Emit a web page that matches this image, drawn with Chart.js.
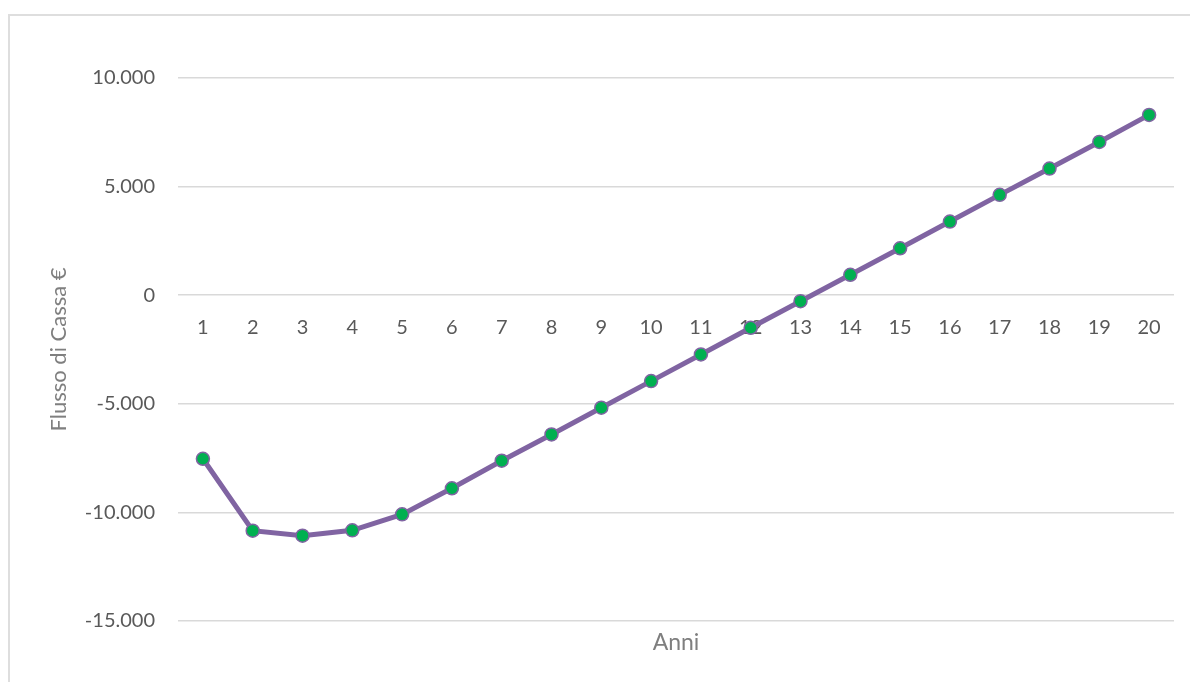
<!DOCTYPE html>
<html lang="it">
<head>
<meta charset="utf-8">
<title>Flusso di Cassa</title>
<script src="https://cdn.jsdelivr.net/npm/chart.js@4.4.1/dist/chart.umd.min.js"></script>
<style>
  html, body { margin: 0; padding: 0; background: #ffffff; overflow: hidden; }
  #wrap { position: relative; width: 1190px; height: 682px; }
  #frame { position: absolute; left: 8px; top: 14px; width: 1300px; height: 800px;
           border: 2px solid #dedede; box-sizing: border-box; pointer-events: none; }
  canvas { position: absolute; left: 0; top: 0; }
</style>
</head>
<body>
<div id="wrap">
  <div id="frame"></div>
  <canvas id="chart" width="1190" height="682"></canvas>
</div>
<script>
// Anni del piano e flusso di cassa cumulato (€)
const anni = ['1','2','3','4','5','6','7','8','9','10','11','12','13','14','15','16','17','18','19','20'];
const flussoCassa = [-7530, -10840, -11070, -10825, -10090, -8890, -7620, -6410, -5180, -3955,
                     -2730, -1500, -275, 940, 2160, 3390, 4620, 5830, 7055, 8300];
const yTicks = [-15000, -10000, -5000, 0, 5000, 10000];

const FONT = 'Lato, Carlito, Calibri, "Open Sans", sans-serif';

// Formato italiano: punto come separatore delle migliaia
function formatIt(v) {
  const neg = v < 0;
  const s = Math.abs(Math.round(v)).toString().replace(/\B(?=(\d{3})+(?!\d))/g, '.');
  return (neg ? '-' : '') + s;
}

new Chart(document.getElementById('chart'), {
  type: 'line',
  data: {
    labels: anni,
    datasets: [{
      label: 'Flusso di Cassa',
      data: flussoCassa,
      borderColor: '#8064a2',
      borderWidth: 5,
      pointRadius: 6.5,
      pointHoverRadius: 6.5,
      pointBackgroundColor: '#00b050',
      pointBorderColor: '#8064a2',
      pointBorderWidth: 1.5,
      tension: 0,
      xAxisID: 'x',
      yAxisID: 'y'
    }]
  },
  options: {
    responsive: false,
    animation: false,
    events: [],
    layout: { padding: { left: 0, right: 16, top: 78, bottom: 0 } },
    plugins: { legend: { display: false }, tooltip: { enabled: false } },
    scales: {
      x: {
        type: 'category',
        position: 'bottom',
        offset: true,
        grid: { display: false },
        border: { display: false },
        ticks: { display: false },
        title: {
          display: true,
          text: 'Anni',
          color: '#7f7f7f',
          font: { family: FONT, size: 23 },
          padding: { top: 0, bottom: 26 }
        },
        afterFit: s => { s.height = 61; }
      },
      xLabels: {
        type: 'category',
        labels: anni,
        position: { y: 0 },
        offset: true,
        grid: { display: false, drawTicks: false },
        border: { display: false },
        ticks: {
          color: '#595959',
          font: { family: FONT, size: 20 },
          padding: 20,
          maxRotation: 0,
          autoSkip: false
        }
      },
      y: {
        type: 'linear',
        position: 'left',
        min: -15000,
        max: 10000,
        afterBuildTicks: s => { s.ticks = yTicks.map(v => ({ value: v })); },
        grid: { color: '#d9d9d9', lineWidth: 1.5, drawTicks: false },
        border: { display: false },
        ticks: {
          color: '#595959',
          font: { family: FONT, size: 20 },
          padding: 23,
          callback: v => formatIt(v)
        },
        title: {
          display: true,
          text: 'Flusso di Cassa €',
          color: '#7f7f7f',
          font: { family: FONT, size: 22 },
          padding: { top: 46, bottom: 0 }
        },
        afterFit: s => { s.width = 178; }
      }
    }
  }
});
</script>
</body>
</html>
